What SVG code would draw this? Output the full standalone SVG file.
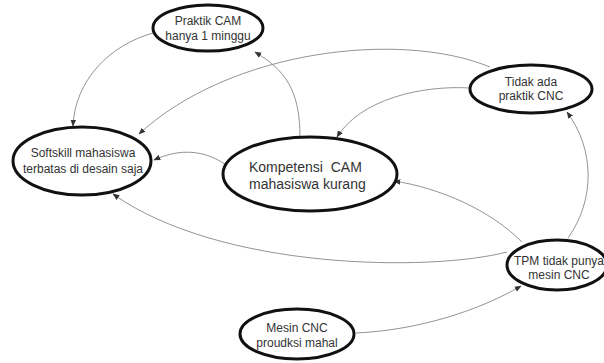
<svg xmlns="http://www.w3.org/2000/svg" width="604" height="363" viewBox="0 0 604 363">
<defs>
<marker id="ah" viewBox="0 0 10 10" refX="9" refY="5" markerWidth="7" markerHeight="7" orient="auto" markerUnits="userSpaceOnUse">
<path d="M0,1 L10,5 L0,9 z" fill="#333"/>
</marker>
<style>
.node ellipse{fill:#fff;stroke:#111;stroke-width:3}
.node text{font-family:"Liberation Sans",Arial,sans-serif;font-size:12px;fill:#333;text-anchor:middle}
.big text{font-size:14px;text-anchor:start}
.edges path{fill:none;stroke:#777;stroke-width:0.8;marker-end:url(#ah)}
</style>
</defs>
<rect width="604" height="363" fill="#fff"/>
<g class="edges" id="connectors">
<path d="M153,33 C110,45 75,80 73,126"/>
<path d="M300,137 C300,90 285,70 255,52"/>
<path d="M490,67 C400,30 230,50 139,134"/>
<path d="M470,88 C420,85 360,100 337,137"/>
<path d="M226,165 C205,150 180,148 154,160"/>
<path d="M522,242 C490,210 440,188 394,181"/>
<path d="M507,252 C430,272 220,270 113,194"/>
<path d="M568,238 C595,200 595,150 567,112"/>
<path d="M356,333 C420,330 480,310 521,286"/>
</g>
<g class="node" id="praktik-cam">
<ellipse cx="208" cy="28" rx="55" ry="23"/>
<text x="208" y="25">Praktik CAM</text>
<text x="208" y="40">hanya 1 minggu</text>
</g>
<g class="node" id="softskill">
<ellipse cx="82" cy="161" rx="69" ry="34"/>
<text x="83" y="157">Softskill mahasiswa</text>
<text x="83" y="173">terbatas di desain saja</text>
</g>
<g class="node big" id="kompetensi">
<ellipse cx="310" cy="174" rx="87" ry="37"/>
<text x="249" y="172" xml:space="preserve">Kompetensi  CAM</text>
<text x="249" y="189">mahasiswa kurang</text>
</g>
<g class="node" id="tidak-ada">
<ellipse cx="531" cy="89" rx="61" ry="24"/>
<text x="531" y="86">Tidak ada</text>
<text x="531" y="100">praktik CNC</text>
</g>
<g class="node" id="tpm">
<ellipse cx="557" cy="265" rx="50" ry="25"/>
<text x="559" y="265">TPM tidak punya</text>
<text x="559" y="279">mesin CNC</text>
</g>
<g class="node" id="mesin-cnc">
<ellipse cx="297" cy="334" rx="57" ry="25"/>
<text x="297" y="332">Mesin CNC</text>
<text x="297" y="347">proudksi mahal</text>
</g>
</svg>
